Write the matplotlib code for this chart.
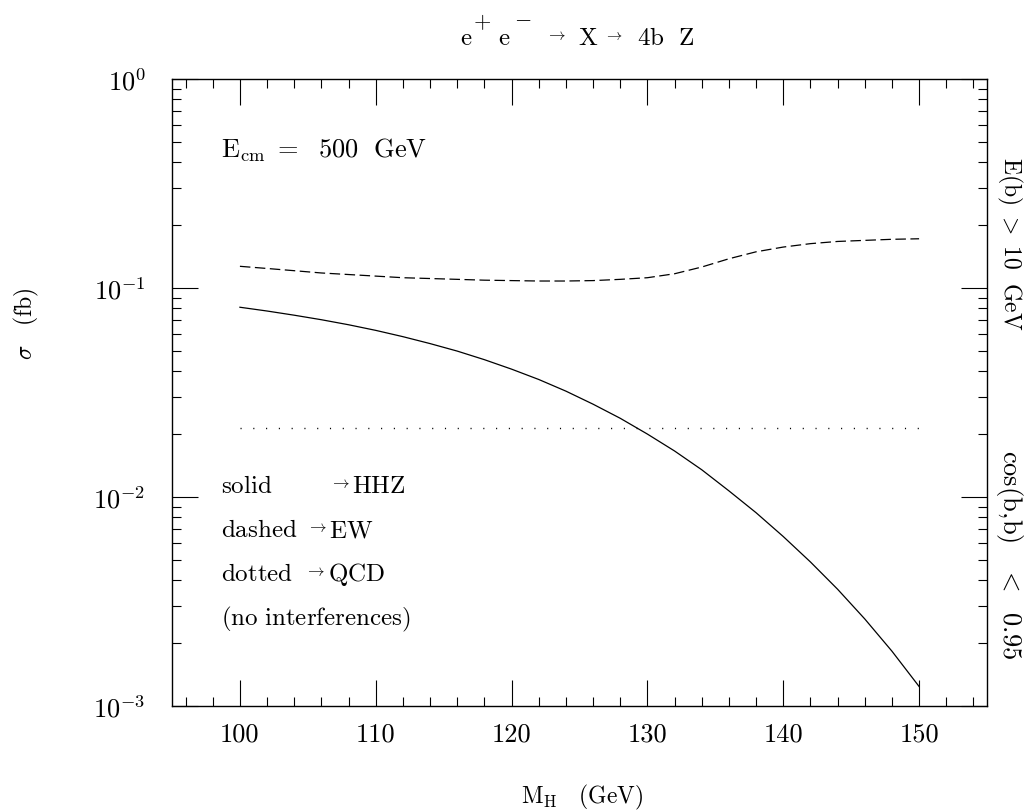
import matplotlib
matplotlib.use("Agg")
import matplotlib.pyplot as plt
from matplotlib.ticker import MultipleLocator, LogLocator, NullFormatter

plt.rcParams['mathtext.fontset'] = 'cm'
plt.rcParams['font.family'] = 'serif'
plt.rcParams['font.serif'] = ['cmr10', 'DejaVu Serif']
plt.rcParams['axes.formatter.use_mathtext'] = True

# Higgs mass points (GeV)
mh = [100, 102, 104, 106, 108, 110, 112, 114, 116, 118, 120, 122, 124,
      126, 128, 130, 132, 134, 136, 138, 140, 142, 144, 146, 148, 150]

# HHZ signal (solid), fb
sigma_hhz = [0.0809, 0.0776, 0.0741, 0.0705, 0.0667, 0.0627, 0.0585, 0.0542,
             0.0499, 0.0454, 0.0409, 0.0365, 0.0321, 0.0278, 0.0238, 0.0200,
             0.0166, 0.0135, 0.0107, 0.00841, 0.00647, 0.00489, 0.00362,
             0.00261, 0.00183, 0.00124]

# EW background (dashed), fb
sigma_ew = [0.127, 0.124, 0.121, 0.118, 0.116, 0.114, 0.112, 0.111, 0.110,
            0.109, 0.1085, 0.108, 0.108, 0.1085, 0.110, 0.112, 0.117, 0.126,
            0.138, 0.149, 0.157, 0.163, 0.167, 0.169, 0.171, 0.172]

# QCD background (dotted), fb
qcd_mh = [100, 150]
sigma_qcd = [0.0214, 0.0214]

xticks = [100, 110, 120, 130, 140, 150]
xtick_labels = ['100', '110', '120', '130', '140', '150']
yticks = [1e-3, 1e-2, 1e-1, 1]
ytick_labels = [r'$10^{-3}$', r'$10^{-2}$', r'$10^{-1}$', r'$10^{0}$']

W, H = 1027, 812
fig = plt.figure(figsize=(W / 100, H / 100), dpi=100)
ax = fig.add_axes([172 / W, 1 - 707 / H, 815 / W, 627 / H])

ax.plot(mh, sigma_hhz, color='black', lw=0.9)
ax.plot(mh, sigma_ew, color='black', lw=0.9, linestyle=(0, (8.4, 3.6)))
ax.plot(qcd_mh, sigma_qcd, color='black', lw=1.0, linestyle=(0, (0.8, 8.4)))

ax.set_yscale('log')
ax.set_xlim(95, 155)
ax.set_ylim(1e-3, 1)
ax.set_xticks(xticks, xtick_labels)
ax.set_yticks(yticks, ytick_labels)
ax.xaxis.set_minor_locator(MultipleLocator(2))
ax.yaxis.set_minor_locator(LogLocator(base=10, subs=range(2, 10)))
ax.yaxis.set_minor_formatter(NullFormatter())

ax.tick_params(which='both', direction='in', top=True, right=True, width=0.8)
ax.tick_params(which='major', length=19, labelsize=19)
ax.tick_params(axis='x', which='major', pad=11)
ax.tick_params(axis='y', which='major', pad=19)
ax.tick_params(which='minor', length=6.5)
for s in ax.spines.values():
    s.set_linewidth(1.0)


def fx(px):
    return px / W


def fy(py):
    return 1 - py / H


def put(px, py, s, size=18, **kw):
    fig.text(fx(px), fy(py), s, fontsize=size, ha='left', va='baseline', **kw)


put(221, 157, r'$\mathrm{E_{cm}\ =\ \ 500\ \ GeV}$', size=19)

# notes: word, arrow x, label x, baseline
rows = [('solid', 330, 352, 493),
        ('dashed', 307, 329, 537),
        ('dotted', 305, 328, 581)]
labels = ['HHZ', 'EW', 'QCD']
for (word, arr_px, lab_px, base), lab in zip(rows, labels):
    put(221, base, r'$\mathrm{%s}$' % word)
    put(arr_px, base - 5, r'$\rightarrow$', size=12)
    put(lab_px, base, r'$\mathrm{%s}$' % lab)
put(221, 625, r'$\mathrm{(no\ interferences)}$')

# title pieces
put(460, 45, r'$\mathrm{e}$', size=18)
put(473, 28, r'$+$', size=16)
put(498, 45, r'$\mathrm{e}$', size=18)
put(514, 24, r'$-$', size=16)
put(546, 40, r'$\rightarrow$', size=12)
put(578, 45, r'$\mathrm{X}$', size=18)
put(604, 40, r'$\rightarrow$', size=11)
put(637, 45, r'$\mathrm{4b\ \ Z}$', size=18)

fig.text(582 / W, 1 - 803 / H, r'$\mathrm{M_{H}\ \ \ (GeV)}$', fontsize=17,
         ha='center', va='baseline')
fig.text(26 / W, 1 - 324 / H, r'$\sigma\ \ \ \mathrm{(fb)}$', fontsize=17,
         ha='center', va='center', rotation=90)
fig.text(1010 / W, 1 - 244 / H, r'$\mathrm{E(b)}\ >\ 10\ \ \mathrm{GeV}$', fontsize=17,
         ha='center', va='center', rotation=270)
fig.text(1010 / W, 1 - 555 / H, r'$\mathrm{cos(b,\!b)}\ \ \ <\ \ 0.95$', fontsize=19,
         ha='center', va='center', rotation=270)

fig.savefig('out.png', dpi=100)
